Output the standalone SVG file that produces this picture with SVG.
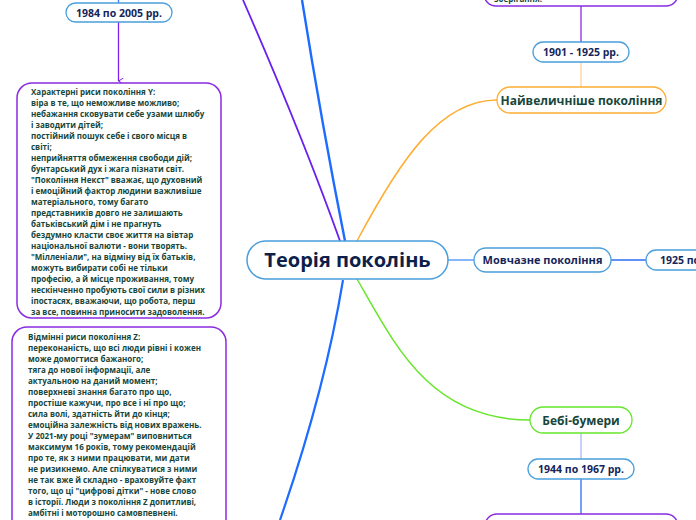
<svg xmlns="http://www.w3.org/2000/svg" width="696" height="520" viewBox="0 0 696 520">
<style>
.pill{fill:#ffffff;stroke:#4a9fdc;stroke-width:1.3}
.note{fill:#ffffff;stroke:#8a2be2;stroke-width:1.5}
.t{font-family:"Open Sans","Noto Sans",sans-serif;font-weight:700;text-anchor:middle}
.ts{font-family:"Open Sans","Noto Sans",sans-serif;font-weight:700;text-anchor:start}
.navy{fill:#13265a}
.dg{fill:#17463a}
.body{font-family:"Open Sans","Noto Sans",sans-serif;font-weight:700;font-size:8px;fill:#17463a}
.c{fill:none}
</style>
<defs>
<marker id="arr" markerWidth="6" markerHeight="6" refX="3" refY="5" orient="auto" markerUnits="userSpaceOnUse" viewBox="0 0 6 6">
<path d="M0,0 L3,5 L6,0" fill="none" stroke="#7d1ff0" stroke-width="1"/>
</marker>
</defs>
<g id="connectors">
<path class="c" d="M340,241 Q302,135 243,0" stroke="#6a1ff0" stroke-width="1.8"/>
<path class="c" d="M345,241 Q322,125 302,0" stroke="#1e6cff" stroke-width="2.4"/>
<path class="c" d="M357,241 C400,160 440,100 497,100" stroke="#ffad33" stroke-width="1.5"/>
<path class="c" d="M448,260 L474,260" stroke="#7ab0ff" stroke-width="1.8"/>
<path class="c" d="M357,279 C395,345 430,420 530,420" stroke="#66e62a" stroke-width="1.5"/>
<path class="c" d="M343,280 Q325,390 280,520" stroke="#1e6cff" stroke-width="2.2"/>
<path class="c" d="M118.5,0 L118.5,3" stroke="#3a7bf0" stroke-width="1.3"/>
<path class="c" d="M118.5,22 L118.5,81" stroke="#7d1ff0" stroke-width="1.3" marker-end="url(#arr)"/>
<path class="c" d="M581,6 L581,42" stroke="#8a2be2" stroke-width="1.3"/>
<path class="c" d="M581,62 L581,87" stroke="#ffd39a" stroke-width="1.3"/>
<path class="c" d="M611,260 L646,260" stroke="#2a6df4" stroke-width="1.5"/>
<path class="c" d="M581,433 L581,459" stroke="#aab8f5" stroke-width="1.3"/>
<path class="c" d="M581,479 L581,514" stroke="#2a6df4" stroke-width="1.3"/>
</g>
<g id="node-top-right-note">
<rect class="note" x="484" y="-40" width="194" height="46" rx="12"/>
<text class="body" x="494" y="2">зберігання.</text>
</g>
<g id="node-1984">
<rect class="pill" x="66" y="3" width="106" height="19" rx="9.5"/>
<text class="t navy" x="119" y="16.5" font-size="10.5">1984 по 2005 рр.</text>
</g>
<g id="node-y-note">
<rect class="note" x="17" y="83" width="204" height="235" rx="15"/>
<text class="body">
<tspan x="31" y="94.5">Характерні риси покоління Y:</tspan>
<tspan x="31" y="105.5">віра в те, що неможливе можливо;</tspan>
<tspan x="31" y="116.5">небажання сковувати себе узами шлюбу</tspan>
<tspan x="31" y="127.5">і заводити дітей;</tspan>
<tspan x="31" y="138.5">постійний пошук себе і свого місця в</tspan>
<tspan x="31" y="149.5">світі;</tspan>
<tspan x="31" y="160.5">неприйняття обмеження свободи дій;</tspan>
<tspan x="31" y="171.5">бунтарський дух і жага пізнати світ.</tspan>
<tspan x="31" y="182.5">"Покоління Некст" вважає, що духовний</tspan>
<tspan x="31" y="193.5">і емоційний фактор людини важливіше</tspan>
<tspan x="31" y="204.5">матеріального, тому багато</tspan>
<tspan x="31" y="215.5">представників довго не залишають</tspan>
<tspan x="31" y="226.5">батьківський дім і не прагнуть</tspan>
<tspan x="31" y="237.5">бездумно класти своє життя на вівтар</tspan>
<tspan x="31" y="248.5">національної валюти - вони творять.</tspan>
<tspan x="31" y="259.5">"Мілленіали", на відміну від їх батьків,</tspan>
<tspan x="31" y="270.5">можуть вибирати собі не тільки</tspan>
<tspan x="31" y="281.5">професію, а й місце проживання, тому</tspan>
<tspan x="31" y="292.5">нескінченно пробують свої сили в різних</tspan>
<tspan x="31" y="303.5">іпостасях, вважаючи, що робота, перш</tspan>
<tspan x="31" y="314.5">за все, повинна приносити задоволення.</tspan>
</text>
</g>
<g id="node-z-note">
<rect class="note" x="12" y="327" width="214" height="215" rx="15"/>
<text class="body">
<tspan x="28" y="340">Відмінні риси покоління Z:</tspan>
<tspan x="28" y="351">переконаність, що всі люди рівні і кожен</tspan>
<tspan x="28" y="362">може домогтися бажаного;</tspan>
<tspan x="28" y="373">тяга до нової інформації, але</tspan>
<tspan x="28" y="384">актуальною на даний момент;</tspan>
<tspan x="28" y="395">поверхневі знання багато про що,</tspan>
<tspan x="28" y="406">простіше кажучи, про все і ні про що;</tspan>
<tspan x="28" y="417">сила волі, здатність йти до кінця;</tspan>
<tspan x="28" y="428">емоційна залежність від нових вражень.</tspan>
<tspan x="28" y="439">У 2021-му році "зумерам" виповниться</tspan>
<tspan x="28" y="450">максимум 16 років, тому рекомендацій</tspan>
<tspan x="28" y="461">про те, як з ними працювати, ми дати</tspan>
<tspan x="28" y="472">не ризикнемо. Але спілкуватися з ними</tspan>
<tspan x="28" y="483">не так вже й складно - враховуйте факт</tspan>
<tspan x="28" y="494">того, що ці "цифрові дітки" - нове слово</tspan>
<tspan x="28" y="505">в історії. Люди з покоління Z допитливі,</tspan>
<tspan x="28" y="516">амбітні і моторошно самовпевнені.</tspan>
</text>
</g>
<g id="node-center">
<rect x="247" y="241" width="201" height="38" rx="19" fill="#ffffff" stroke="#4a9fdc" stroke-width="1.5"/>
<text class="t" x="347.5" y="267" font-size="20" fill="#0d1f4a">Теорія поколінь</text>
</g>
<g id="node-1901">
<rect class="pill" x="533" y="42" width="96" height="20" rx="10"/>
<text class="t navy" x="581" y="56" font-size="10.5">1901 - 1925 рр.</text>
</g>
<g id="node-greatest">
<rect x="497" y="87" width="169" height="26" rx="13" fill="#ffffff" stroke="#ffad33" stroke-width="1.3"/>
<text class="t dg" x="581.5" y="104.5" font-size="12">Найвеличніше покоління</text>
</g>
<g id="node-silent">
<rect class="pill" x="474" y="248" width="137" height="24" rx="12"/>
<text class="t navy" x="542.5" y="264" font-size="11">Мовчазне покоління</text>
</g>
<g id="node-1925">
<rect class="pill" x="646" y="250" width="100" height="20" rx="10"/>
<text class="ts navy" x="660" y="264" font-size="10.5">1925 по</text>
</g>
<g id="node-boomers">
<rect x="530" y="407" width="102" height="26" rx="13" fill="#ffffff" stroke="#66e62a" stroke-width="1.3"/>
<text class="t dg" x="581" y="424.5" font-size="12">Бебі-бумери</text>
</g>
<g id="node-1944">
<rect class="pill" x="528" y="459" width="106" height="20" rx="10"/>
<text class="t navy" x="581" y="473" font-size="10.5">1944 по 1967 рр.</text>
</g>
<g id="node-bottom-right-note">
<rect class="note" x="485" y="514" width="193" height="40" rx="12"/>
</g>
</svg>
